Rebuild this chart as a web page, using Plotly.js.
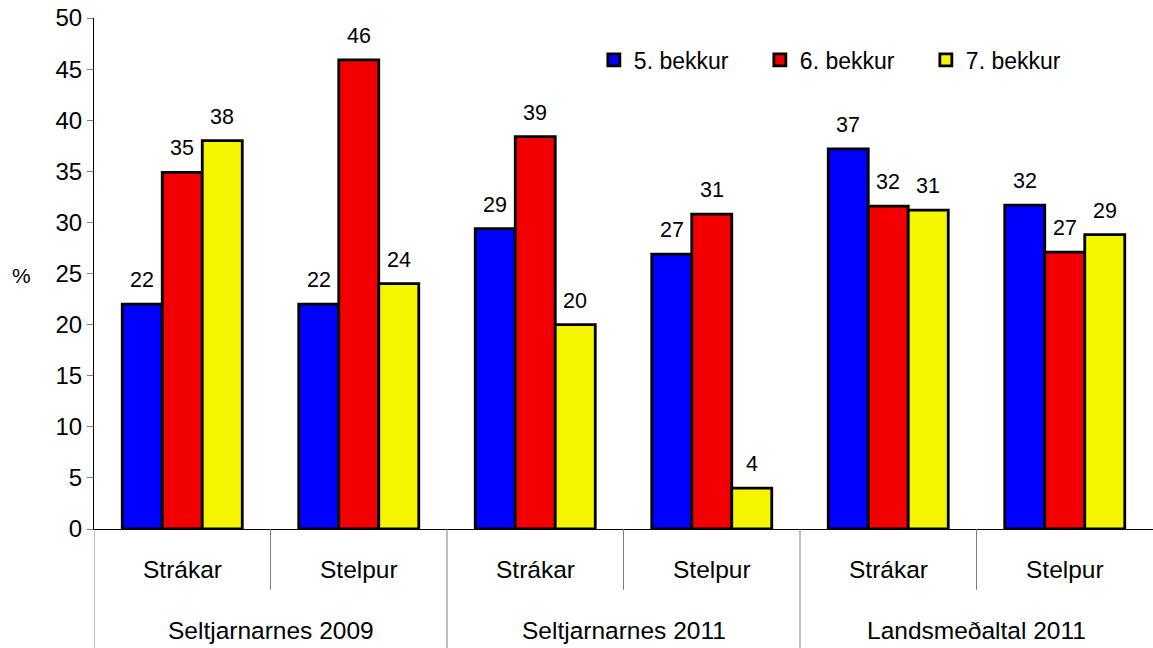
<!DOCTYPE html>
<html>
<head>
<meta charset="utf-8">
<script src="https://cdn.plot.ly/plotly-3.0.1.min.js"></script>
<style>html,body{margin:0;padding:0;background:#fff;}#chart{width:1153px;height:648px;}</style>
</head>
<body>
<div id="chart"></div>
<script>
const groups = ["Seltjarnarnes 2009","Seltjarnarnes 2009","Seltjarnarnes 2011","Seltjarnarnes 2011","Landsmeðaltal 2011","Landsmeðaltal 2011"];
const subs = ["Strákar","Stelpur","Strákar","Stelpur","Strákar","Stelpur"];
const seriesNames = ["5. bekkur","6. bekkur","7. bekkur"];
const grade5 = [22.0, 22.0, 29.4, 26.9, 37.2, 31.7];
const grade6 = [34.9, 45.9, 38.4, 30.8, 31.6, 27.1];
const grade7 = [38.0, 24.0, 20.0, 4.0, 31.2, 28.8];
const labels5 = ["22","22","29","27","37","32"];
const labels6 = ["35","46","39","31","32","27"];
const labels7 = ["38","24","20","4","31","29"];
const yTicks = [0,5,10,15,20,25,30,35,40,45,50];

const colors = ["#0000FF","#F20000","#F5F500"];
const values = [grade5, grade6, grade7];
const texts = [labels5, labels6, labels7];
const FONT = "Liberation Sans, Arial, sans-serif";
const bargap = 0.32;

const traces = values.map((v,i)=>({
  type:"bar",
  name: seriesNames[i],
  x:[groups, subs],
  y:v,
  marker:{color:colors[i], line:{color:"#000", width:2.8}},
  hoverinfo:"skip"
}));

const annotations = [];
const shapes = [];
const w = (1-bargap)/3;
values.forEach((v,i)=>{
  v.forEach((val,j)=>{
    annotations.push({
      x: j + (i-1)*w, y: val, xref:"x", yref:"y",
      text: texts[i][j], showarrow:false, xanchor:"center", yanchor:"bottom", yshift:10,
      font:{family:FONT, size:21.5, color:"#000"}
    });
  });
});
// sub-category labels
subs.forEach((s,j)=>{
  annotations.push({x:j, y:-0.080, xref:"x", yref:"paper", text:s, showarrow:false,
    xanchor:"center", yanchor:"middle", font:{family:FONT, size:24.5, color:"#000"}});
});
// group labels and dividers
const uniqueGroups = [...new Set(groups)];
uniqueGroups.forEach(g=>{
  const idx = groups.map((v,k)=>v===g?k:-1).filter(k=>k>=0);
  const c = idx.reduce((a,b)=>a+b,0)/idx.length;
  annotations.push({x:c, y:-0.198, xref:"x", yref:"paper", text:g, showarrow:false,
    xanchor:"center", yanchor:"middle", font:{family:FONT, size:24.5, color:"#000"}});
  shapes.push({type:"line", xref:"x", yref:"paper", x0:idx[0]-0.5, x1:idx[0]-0.5, y0:0, y1:-0.235,
    line:{color:"#808080", width:1}});
  for(let k=1;k<idx.length;k++){
    shapes.push({type:"line", xref:"x", yref:"paper", x0:idx[k]-0.5, x1:idx[k]-0.5, y0:0, y1:-0.119,
      line:{color:"#808080", width:1}});
  }
});
annotations.push({x:-0.068, y:0.497, xref:"paper", yref:"paper", text:"%", showarrow:false,
  xanchor:"center", yanchor:"middle", font:{family:FONT, size:21, color:"#000"}});

const layout = {
  width:1153, height:648,
  margin:{l:94, r:0, t:18, b:119, autoexpand:false},
  paper_bgcolor:"#fff", plot_bgcolor:"#fff",
  barmode:"group", bargap:bargap, bargroupgap:0,
  font:{family:FONT, size:20, color:"#000"},
  showlegend:true,
  legend:{orientation:"h", x:0.472, y:0.918, xanchor:"left", yanchor:"middle",
    font:{family:FONT, size:23, color:"#000"}, entrywidth:121, entrywidthmode:"pixels",
    itemwidth:30, bgcolor:"rgba(0,0,0,0)"},
  xaxis:{type:"multicategory", range:[-0.5,5.5], showline:true, linecolor:"#000", linewidth:1,
    ticks:"", showticklabels:false, showdividers:false, showgrid:false, zeroline:false},
  yaxis:{range:[0,50], tickvals:yTicks, ticktext:yTicks.map(String), showline:true, linecolor:"#000", linewidth:1,
    ticks:"outside", ticklen:6, tickcolor:"#808080", showgrid:false, zeroline:false,
    tickfont:{family:FONT, size:24, color:"#000"}},
  annotations:annotations,
  shapes:shapes
};
Plotly.newPlot("chart", traces, layout, {staticPlot:true, displayModeBar:false});
</script>
</body>
</html>
